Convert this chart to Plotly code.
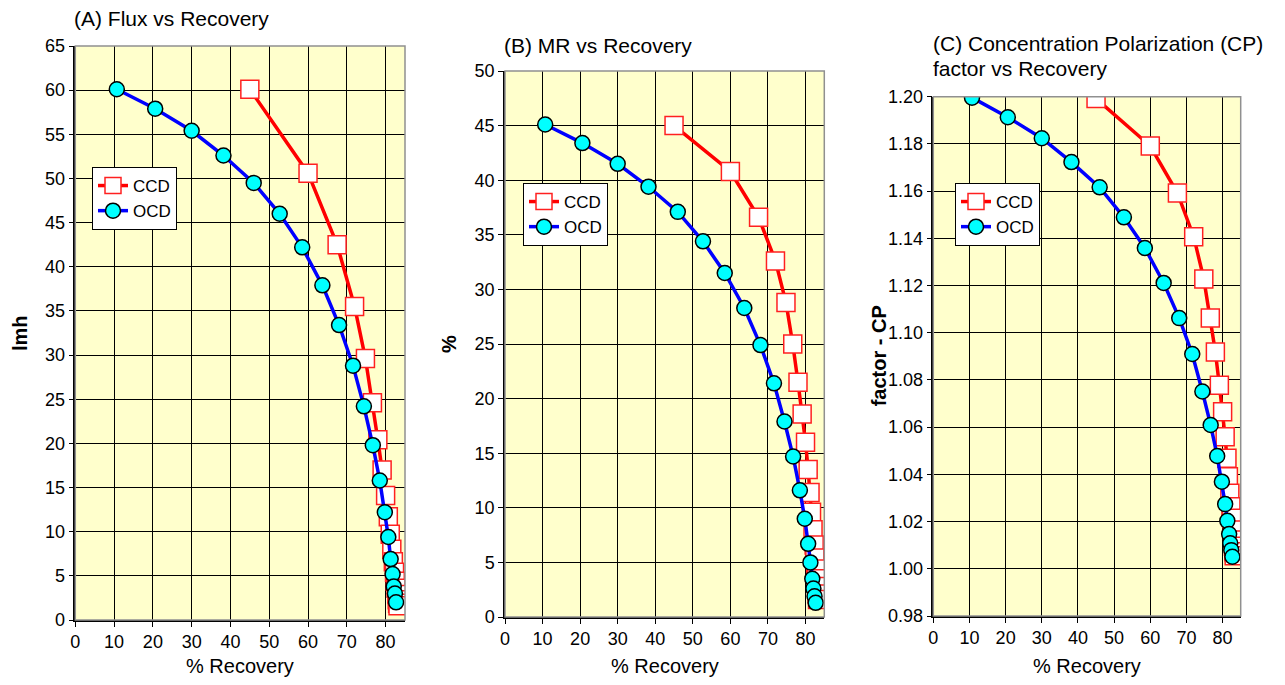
import plotly.graph_objects as go

# ---------------- data ----------------
ocd_recovery = [10.7, 20.6, 30.0, 38.2, 46.0, 52.7, 58.5, 63.7, 68.0, 71.6,
                74.4, 76.7, 78.5, 79.8, 80.7, 81.3, 81.8, 82.1, 82.4, 82.7]
ccd_recovery = [45.0, 60.0, 67.5, 72.0, 74.8, 76.6, 78.0, 79.1, 80.0, 80.7,
                81.2, 81.6, 82.0, 82.3, 82.5, 82.7, 82.9, 83.0, 83.1, 83.2]

ocd_flux = [60.1, 57.9, 55.4, 52.6, 49.5, 46.0, 42.2, 37.9, 33.4, 28.8,
            24.2, 19.8, 15.8, 12.2, 9.4, 6.9, 5.2, 3.8, 3.0, 2.0]
ccd_flux = [60.1, 50.6, 42.5, 35.5, 29.6, 24.6, 20.4, 17.0, 14.1, 11.7,
            9.7, 8.0, 6.6, 5.4, 4.4, 3.6, 2.9, 2.3, 1.9, 1.6]

ocd_mr = [45.1, 43.4, 41.5, 39.4, 37.1, 34.4, 31.5, 28.3, 24.9, 21.4,
          17.9, 14.7, 11.6, 9.0, 6.7, 5.0, 3.5, 2.6, 1.9, 1.3]
ccd_mr = [45.0, 40.8, 36.6, 32.6, 28.8, 25.0, 21.5, 18.6, 16.0, 13.5,
          11.4, 9.6, 8.0, 6.6, 5.4, 4.4, 3.5, 2.8, 2.1, 1.6]

ocd_cp = [1.1996, 1.1913, 1.1824, 1.1723, 1.1616, 1.1489, 1.1359, 1.1211, 1.1062, 1.0910,
          1.0751, 1.0609, 1.0478, 1.0369, 1.0274, 1.0203, 1.0147, 1.0108, 1.0079, 1.0051]
ccd_cp = [1.1992, 1.1791, 1.1592, 1.1407, 1.1228, 1.1062, 1.0918, 1.0778, 1.0665, 1.0559,
          1.0468, 1.0390, 1.0320, 1.0263, 1.0214, 1.0164, 1.0122, 1.0095, 1.0072, 1.0055]

x_ticks = [0, 10, 20, 30, 40, 50, 60, 70, 80]
panel_titles = [["(A) Flux vs Recovery"], ["(B) MR vs Recovery"],
                ["(C) Concentration Polarization (CP)", "factor vs Recovery"]]
y_titles = ["lmh", "%", "factor - CP"]
x_title = "% Recovery"

OFF = 8  # page body margin
W, H = 1285 - OFF, 685 - OFF
FONT = "Liberation Sans, Arial, sans-serif"


def px(v):
    return (v - OFF) / W


def py(v):
    return 1 - (v - OFF) / H


# panel geometry (page pixels): left, right, top, bottom
panels = [
    dict(l=75.3, r=405.0, t=46.0, b=620.0, yr=[0, 65], dt=5, fmt=None,
         ocd=ocd_flux, ccd=ccd_flux, leg=(92, 167), ytx=20, tx=72, ty=[18]),
    dict(l=505.0, r=824.3, t=71.0, b=617.0, yr=[0, 50], dt=5, fmt=None,
         ocd=ocd_mr, ccd=ccd_mr, leg=(523, 183), ytx=449, tx=502, ty=[45]),
    dict(l=933.3, r=1240.7, t=96.7, b=616.0, yr=[0.98, 1.20], dt=0.02, fmt=".2f",
         ocd=ocd_cp, ccd=ccd_cp, leg=(955, 183), ytx=879, tx=931, ty=[44, 69]),
]

fig = go.Figure()
annotations = []
shapes = []

for i, p in enumerate(panels):
    n = "" if i == 0 else str(i + 1)
    xa, ya = "x" + n, "y" + n
    leg = "legend" + n
    fig.add_trace(go.Scatter(
        x=ccd_recovery, y=p["ccd"], name="CCD", mode="lines+markers",
        xaxis=xa, yaxis=ya, legend=leg,
        line=dict(color="#FF0000", width=3.5),
        marker=dict(symbol="square", size=18, color="white",
                    line=dict(color="#FF2020", width=1.5))))
    fig.add_trace(go.Scatter(
        x=ocd_recovery, y=p["ocd"], name="OCD", mode="lines+markers",
        xaxis=xa, yaxis=ya, legend=leg,
        line=dict(color="#0000FF", width=3.5),
        marker=dict(symbol="circle", size=15, color="#00FFFF",
                    line=dict(color="black", width=1.5))))

    xdom = [px(p["l"]), px(p["r"])]
    ydom = [py(p["b"]), py(p["t"])]
    common = dict(showgrid=True, gridcolor="black", gridwidth=1,
                  ticks="outside", ticklen=5, tickcolor="black",
                  showline=True, linecolor="black", linewidth=1.5,
                  zeroline=False, tickfont=dict(family=FONT, size=18, color="black"),
                  automargin=False)
    fig.layout["xaxis" + n] = dict(domain=xdom, range=[0, 85], tickvals=x_ticks,
                                   anchor=ya, **common)
    yax = dict(domain=ydom, range=p["yr"], dtick=p["dt"], tick0=p["yr"][0],
               anchor=xa, **common)
    if p["fmt"]:
        yax["tickformat"] = p["fmt"]
    fig.layout["yaxis" + n] = yax

    fig.layout[leg] = dict(x=px(p["leg"][0]), y=py(p["leg"][1]),
                           xanchor="left", yanchor="top",
                           bgcolor="white", bordercolor="black", borderwidth=1,
                           font=dict(family=FONT, size=17, color="black"),
                           itemwidth=30)

    # grey frame on top / right
    shapes.append(dict(type="rect", xref=xa + " domain", yref=ya + " domain",
                       x0=0, x1=1, y0=0, y1=1, line=dict(color="#909090", width=1.5),
                       layer="above"))

    # panel title lines
    for line_txt, yy in zip(panel_titles[i], p["ty"]):
        annotations.append(dict(text=line_txt, xref="paper", yref="paper",
                                x=px(p["tx"]), y=py(yy), xanchor="left",
                                yanchor="middle", align="left", showarrow=False,
                                font=dict(family=FONT, size=21, color="black")))
    # x title
    annotations.append(dict(text=x_title, xref="paper", yref="paper",
                            x=px(p["l"] + (p["r"] - p["l"]) * 0.5), y=py(666),
                            xanchor="center", yanchor="middle", showarrow=False,
                            font=dict(family=FONT, size=20, color="black")))
    # y title
    annotations.append(dict(text="<b>" + y_titles[i] + "</b>", xref="paper", yref="paper",
                            x=px(p["ytx"]), y=py((p["t"] + p["b"]) / 2),
                            xanchor="center", yanchor="middle", textangle=-90,
                            showarrow=False,
                            font=dict(family=FONT, size=20, color="black")))

fig.update_layout(
    width=W, height=H,
    margin=dict(l=0, r=0, t=0, b=0),
    paper_bgcolor="white", plot_bgcolor="#FFFFCC",
    annotations=annotations, shapes=shapes,
    showlegend=True,
)

fig.write_html("out.html")
